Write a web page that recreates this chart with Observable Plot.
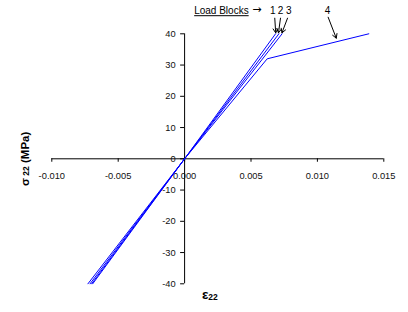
<!DOCTYPE html>
<html>
<head>
<meta charset="utf-8">
<script src="https://cdn.jsdelivr.net/npm/d3@7"></script>
<script src="https://cdn.jsdelivr.net/npm/@observablehq/plot@0.6"></script>
<style>
  html, body { margin: 0; padding: 0; background: #fff; }
  #chart svg { display: block; }
</style>
</head>
<body>
<div id="chart"></div>
<script>
// ---- data ----
const xTicks = [-0.010, -0.005, 0.000, 0.005, 0.010, 0.015];
const xTickLabels = ["-0.010", "-0.005", "0.000", "0.005", "0.010", "0.015"];
const yTicks = [-40, -30, -20, -10, 0, 10, 20, 30, 40];
const yTickLabels = ["-40", "-30", "-20", "-10", "0", "10", "20", "30", "40"];

const loadNames = ["1", "2", "3", "4"];
const load1Strain = [-0.00728, 0, 0.00685];
const load1Stress = [-40, 0, 40];
const load2Strain = [-0.00712, 0, 0.00710];
const load2Stress = [-40, 0, 40];
const load3Strain = [-0.00700, 0, 0.00734];
const load3Stress = [-40, 0, 40];
const load4Strain = [-0.00692, 0, 0.00622, 0.01387];
const load4Stress = [-40, 0, 32.0, 40];

// annotation arrows: label position, arrow tail and head (data units)
const arrowLabelX = [0.00664, 0.00723, 0.00784, 0.01076];
const arrowLabelY = [47.3, 47.3, 47.3, 47.3];
const arrowX1 = [0.00679, 0.00722, 0.00775, 0.01081];
const arrowY1 = [45.0, 45.0, 45.0, 45.3];
const arrowX2 = [0.00686, 0.00707, 0.00733, 0.01142];
const arrowY2 = [40.3, 40.3, 40.3, 38.6];

const legendTitle = "Load Blocks";
const xLabel = "ε22";
const yLabel = "σ 22 (MPa)";

// ---- build tables ----
const series = [
  [load1Strain, load1Stress],
  [load2Strain, load2Stress],
  [load3Strain, load3Stress],
  [load4Strain, load4Stress]
];
const rows = [];
series.forEach(([sx, sy], i) => {
  sx.forEach((v, j) => rows.push({load: loadNames[i], strain: v, stress: sy[j]}));
});
const arrows = loadNames.map((n, i) => ({
  name: n, lx: arrowLabelX[i], ly: arrowLabelY[i],
  x1: arrowX1[i], y1: arrowY1[i], x2: arrowX2[i], y2: arrowY2[i]
}));
const xt = xTicks.map((v, i) => ({v, label: xTickLabels[i]}));
const yt = yTicks.map((v, i) => ({v, label: yTickLabels[i]}));

const font = "Liberation Sans, Arial, Helvetica, sans-serif";

const chart = Plot.plot({
  width: 408,
  height: 312,
  marginLeft: 51.3,
  marginRight: 24.7,
  marginTop: 33.3,
  marginBottom: 28.7,
  style: {fontFamily: font, fontSize: "9px", color: "#000", background: "#fff", overflow: "visible"},
  x: {domain: [-0.010, 0.015], axis: null},
  y: {domain: [-40, 40], axis: null},
  marks: [
    // axes through origin
    Plot.ruleY([0], {x1: xTicks[0], x2: xTicks[xTicks.length - 1], stroke: "#000", strokeWidth: 1}),
    Plot.ruleX([0], {y1: yTicks[0], y2: yTicks[yTicks.length - 1], stroke: "#000", strokeWidth: 1}),
    Plot.ruleX(xt, {x: "v", y1: 0, y2: -1.1, stroke: "#000", strokeWidth: 1}),
    Plot.ruleY(yt, {y: "v", x1: 0, x2: -0.0003, stroke: "#000", strokeWidth: 1}),
    Plot.text(xt, {x: "v", y: 0, text: "label", dy: 17.5, fill: "#111", fontSize: 9.3}),
    Plot.text(yt, {x: 0, y: "v", text: "label", dx: -9, textAnchor: "end", fill: "#111", fontSize: 9.3}),
    // curves
    Plot.line(rows, {x: "strain", y: "stress", z: "load", stroke: "#0000ff", strokeWidth: 1}),
    // annotations
    Plot.text([legendTitle], {x: 0.00072, y: 47.3, text: d => d, textAnchor: "start", fontSize: 10, fill: "#000"}),
    Plot.text(["→"], {x: 0.00510, y: 47.8, text: d => d, textAnchor: "start", fontSize: 11, fontFamily: "DejaVu Sans, sans-serif", fill: "#000"}),
    Plot.text(arrows, {x: "lx", y: "ly", text: "name", fontSize: 10, fill: "#000"}),
    Plot.arrow(arrows, {x1: "x1", y1: "y1", x2: "x2", y2: "y2", stroke: "#000", strokeWidth: 1, headLength: 7, bend: 0}),
    // axis labels
    Plot.text([yLabel], {frameAnchor: "left", dx: -26, rotate: -90, textAnchor: "middle", text: d => d, fontSize: 11.5, fontWeight: "bold", fill: "#000"}),
    Plot.text([xLabel], {x: 0.0019, frameAnchor: "bottom", dy: 15, text: d => d, fontSize: 13.5, fontWeight: "bold", fill: "#000"})
  ]
});

document.getElementById("chart").appendChild(chart);

// styling of mixed-size labels and underline
const svg = d3.select(chart);
svg.selectAll("text").each(function () {
  const t = d3.select(this);
  const s = this.textContent;
  if (s === legendTitle) {
    t.style("text-decoration", "underline");
  } else if (s === yLabel) {
    t.text(null);
    t.append("tspan").text("σ");
    t.append("tspan").attr("font-size", "8.5px").text(" 22");
    t.append("tspan").text(" (MPa)");
  } else if (s === xLabel) {
    t.text(null);
    t.append("tspan").text("ε");
    t.append("tspan").attr("font-size", "8.5px").attr("dy", "1").text("22");
  }
});
</script>
</body>
</html>
